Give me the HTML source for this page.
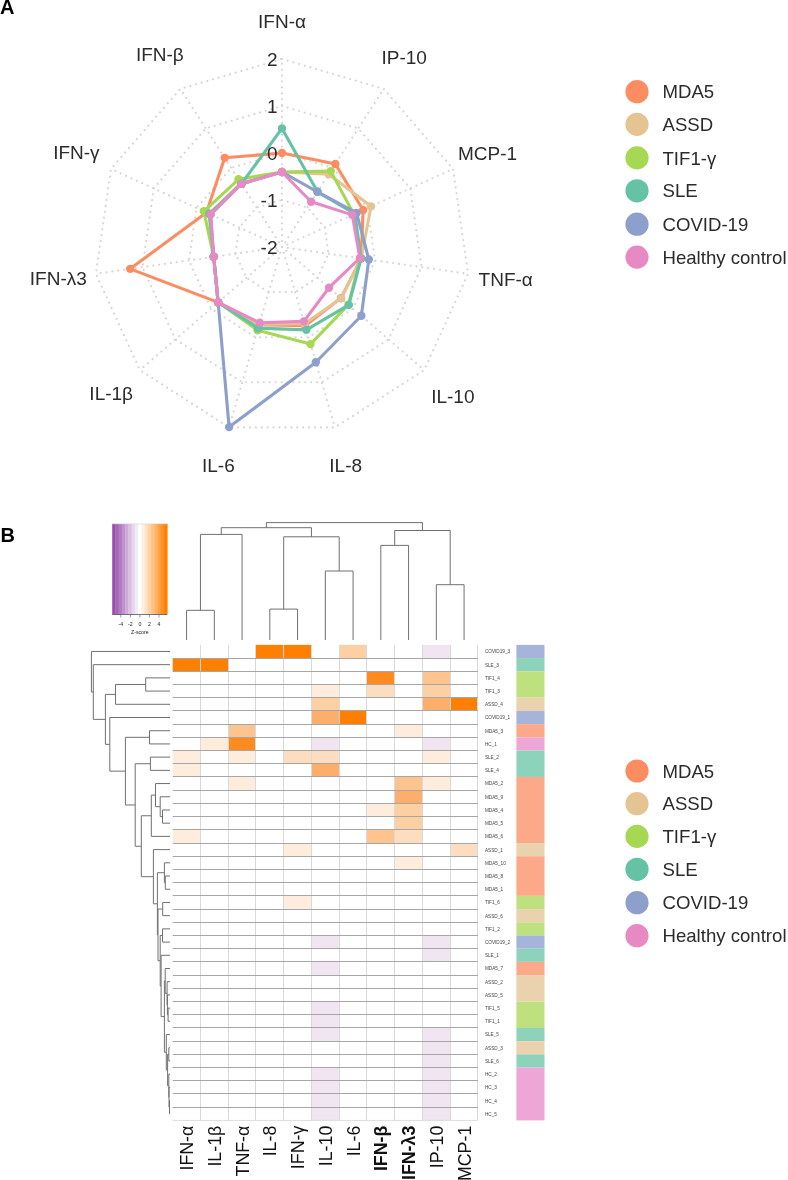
<!DOCTYPE html>
<html><head><meta charset="utf-8"><style>
html,body{margin:0;padding:0;background:#fff;}
svg{display:block;font-family:"Liberation Sans", sans-serif;will-change:transform;}
</style></head><body>
<svg width="788" height="1180" viewBox="0 0 788 1180">
<rect width="788" height="1180" fill="#fff"/>
<polygon points="282.00,200.00 307.41,207.46 324.75,227.48 328.52,253.69 317.52,277.78 295.24,292.10 268.76,292.10 246.48,277.78 235.48,253.69 239.25,227.48 256.59,207.46" fill="none" stroke="#d4d4d4" stroke-width="2.1" stroke-dasharray="0.01 5.9" stroke-linecap="round"/>
<polygon points="282.00,153.00 332.82,167.92 367.51,207.95 375.04,260.38 353.04,308.56 308.48,337.19 255.52,337.19 210.96,308.56 188.96,260.38 196.49,207.95 231.18,167.92" fill="none" stroke="#d4d4d4" stroke-width="2.1" stroke-dasharray="0.01 5.9" stroke-linecap="round"/>
<polygon points="282.00,106.00 358.23,128.38 410.26,188.43 421.56,267.07 388.56,339.34 321.72,382.29 242.28,382.29 175.44,339.34 142.44,267.07 153.74,188.43 205.77,128.38" fill="none" stroke="#d4d4d4" stroke-width="2.1" stroke-dasharray="0.01 5.9" stroke-linecap="round"/>
<polygon points="282.00,59.00 383.64,88.84 453.01,168.90 468.09,273.76 424.08,370.11 334.97,427.38 229.03,427.38 139.92,370.11 95.91,273.76 110.99,168.90 180.36,88.84" fill="none" stroke="#d4d4d4" stroke-width="2.1" stroke-dasharray="0.01 5.9" stroke-linecap="round"/>
<line x1="282.0" y1="247.0" x2="282.00" y2="59.00" stroke="#d4d4d4" stroke-width="2.1" stroke-dasharray="0.01 5.9" stroke-linecap="round"/>
<line x1="282.0" y1="247.0" x2="383.64" y2="88.84" stroke="#d4d4d4" stroke-width="2.1" stroke-dasharray="0.01 5.9" stroke-linecap="round"/>
<line x1="282.0" y1="247.0" x2="453.01" y2="168.90" stroke="#d4d4d4" stroke-width="2.1" stroke-dasharray="0.01 5.9" stroke-linecap="round"/>
<line x1="282.0" y1="247.0" x2="468.09" y2="273.76" stroke="#d4d4d4" stroke-width="2.1" stroke-dasharray="0.01 5.9" stroke-linecap="round"/>
<line x1="282.0" y1="247.0" x2="424.08" y2="370.11" stroke="#d4d4d4" stroke-width="2.1" stroke-dasharray="0.01 5.9" stroke-linecap="round"/>
<line x1="282.0" y1="247.0" x2="334.97" y2="427.38" stroke="#d4d4d4" stroke-width="2.1" stroke-dasharray="0.01 5.9" stroke-linecap="round"/>
<line x1="282.0" y1="247.0" x2="229.03" y2="427.38" stroke="#d4d4d4" stroke-width="2.1" stroke-dasharray="0.01 5.9" stroke-linecap="round"/>
<line x1="282.0" y1="247.0" x2="139.92" y2="370.11" stroke="#d4d4d4" stroke-width="2.1" stroke-dasharray="0.01 5.9" stroke-linecap="round"/>
<line x1="282.0" y1="247.0" x2="95.91" y2="273.76" stroke="#d4d4d4" stroke-width="2.1" stroke-dasharray="0.01 5.9" stroke-linecap="round"/>
<line x1="282.0" y1="247.0" x2="110.99" y2="168.90" stroke="#d4d4d4" stroke-width="2.1" stroke-dasharray="0.01 5.9" stroke-linecap="round"/>
<line x1="282.0" y1="247.0" x2="180.36" y2="88.84" stroke="#d4d4d4" stroke-width="2.1" stroke-dasharray="0.01 5.9" stroke-linecap="round"/>
<polygon points="282.00,153.00 335.36,163.97 363.14,209.94 361.19,258.39 340.95,298.08 305.10,325.68 259.18,324.72 218.14,302.34 130.16,268.83 206.50,212.52 224.69,157.83" fill="none" stroke="#FC8D62" stroke-width="3.1" stroke-linejoin="round"/>
<circle cx="282.00" cy="153.00" r="4.2" fill="#FC8D62"/>
<circle cx="335.36" cy="163.97" r="4.2" fill="#FC8D62"/>
<circle cx="363.14" cy="209.94" r="4.2" fill="#FC8D62"/>
<circle cx="361.19" cy="258.39" r="4.2" fill="#FC8D62"/>
<circle cx="340.95" cy="298.08" r="4.2" fill="#FC8D62"/>
<circle cx="305.10" cy="325.68" r="4.2" fill="#FC8D62"/>
<circle cx="259.18" cy="324.72" r="4.2" fill="#FC8D62"/>
<circle cx="218.14" cy="302.34" r="4.2" fill="#FC8D62"/>
<circle cx="130.16" cy="268.83" r="4.2" fill="#FC8D62"/>
<circle cx="206.50" cy="212.52" r="4.2" fill="#FC8D62"/>
<circle cx="224.69" cy="157.83" r="4.2" fill="#FC8D62"/>
<polygon points="282.00,172.00 328.71,174.32 371.05,206.33 361.19,258.39 341.25,298.34 304.54,323.76 259.32,324.24 218.14,302.34 213.70,256.82 209.23,213.77 240.91,183.06" fill="none" stroke="#E5C494" stroke-width="3.1" stroke-linejoin="round"/>
<circle cx="282.00" cy="172.00" r="4.2" fill="#E5C494"/>
<circle cx="328.71" cy="174.32" r="4.2" fill="#E5C494"/>
<circle cx="371.05" cy="206.33" r="4.2" fill="#E5C494"/>
<circle cx="361.19" cy="258.39" r="4.2" fill="#E5C494"/>
<circle cx="341.25" cy="298.34" r="4.2" fill="#E5C494"/>
<circle cx="304.54" cy="323.76" r="4.2" fill="#E5C494"/>
<circle cx="259.32" cy="324.24" r="4.2" fill="#E5C494"/>
<circle cx="218.14" cy="302.34" r="4.2" fill="#E5C494"/>
<circle cx="213.70" cy="256.82" r="4.2" fill="#E5C494"/>
<circle cx="209.23" cy="213.77" r="4.2" fill="#E5C494"/>
<circle cx="240.91" cy="183.06" r="4.2" fill="#E5C494"/>
<polygon points="282.00,172.00 330.77,171.12 353.86,214.18 360.20,258.24 348.51,304.63 310.51,344.10 257.55,330.28 218.14,302.34 213.70,256.82 203.86,211.32 238.48,179.28" fill="none" stroke="#A6D854" stroke-width="3.1" stroke-linejoin="round"/>
<circle cx="282.00" cy="172.00" r="4.2" fill="#A6D854"/>
<circle cx="330.77" cy="171.12" r="4.2" fill="#A6D854"/>
<circle cx="353.86" cy="214.18" r="4.2" fill="#A6D854"/>
<circle cx="360.20" cy="258.24" r="4.2" fill="#A6D854"/>
<circle cx="348.51" cy="304.63" r="4.2" fill="#A6D854"/>
<circle cx="310.51" cy="344.10" r="4.2" fill="#A6D854"/>
<circle cx="257.55" cy="330.28" r="4.2" fill="#A6D854"/>
<circle cx="218.14" cy="302.34" r="4.2" fill="#A6D854"/>
<circle cx="213.70" cy="256.82" r="4.2" fill="#A6D854"/>
<circle cx="203.86" cy="211.32" r="4.2" fill="#A6D854"/>
<circle cx="238.48" cy="179.28" r="4.2" fill="#A6D854"/>
<polygon points="282.00,128.40 317.47,191.81 354.77,213.77 361.19,258.39 348.81,304.89 306.34,329.90 258.17,328.17 218.14,302.34 213.70,256.82 209.23,213.77 241.45,183.91" fill="none" stroke="#66C2A5" stroke-width="3.1" stroke-linejoin="round"/>
<circle cx="282.00" cy="128.40" r="4.2" fill="#66C2A5"/>
<circle cx="317.47" cy="191.81" r="4.2" fill="#66C2A5"/>
<circle cx="354.77" cy="213.77" r="4.2" fill="#66C2A5"/>
<circle cx="361.19" cy="258.39" r="4.2" fill="#66C2A5"/>
<circle cx="348.81" cy="304.89" r="4.2" fill="#66C2A5"/>
<circle cx="306.34" cy="329.90" r="4.2" fill="#66C2A5"/>
<circle cx="258.17" cy="328.17" r="4.2" fill="#66C2A5"/>
<circle cx="218.14" cy="302.34" r="4.2" fill="#66C2A5"/>
<circle cx="213.70" cy="256.82" r="4.2" fill="#66C2A5"/>
<circle cx="209.23" cy="213.77" r="4.2" fill="#66C2A5"/>
<circle cx="241.45" cy="183.91" r="4.2" fill="#66C2A5"/>
<polygon points="282.00,172.00 317.47,191.81 356.59,212.94 368.81,259.48 361.35,315.76 315.84,362.24 229.12,427.10 218.14,302.34 213.70,256.82 210.59,214.39 241.45,183.91" fill="none" stroke="#8DA0CB" stroke-width="3.1" stroke-linejoin="round"/>
<circle cx="282.00" cy="172.00" r="4.2" fill="#8DA0CB"/>
<circle cx="317.47" cy="191.81" r="4.2" fill="#8DA0CB"/>
<circle cx="356.59" cy="212.94" r="4.2" fill="#8DA0CB"/>
<circle cx="368.81" cy="259.48" r="4.2" fill="#8DA0CB"/>
<circle cx="361.35" cy="315.76" r="4.2" fill="#8DA0CB"/>
<circle cx="315.84" cy="362.24" r="4.2" fill="#8DA0CB"/>
<circle cx="229.12" cy="427.10" r="4.2" fill="#8DA0CB"/>
<circle cx="218.14" cy="302.34" r="4.2" fill="#8DA0CB"/>
<circle cx="213.70" cy="256.82" r="4.2" fill="#8DA0CB"/>
<circle cx="210.59" cy="214.39" r="4.2" fill="#8DA0CB"/>
<circle cx="241.45" cy="183.91" r="4.2" fill="#8DA0CB"/>
<polygon points="282.00,172.00 311.09,201.74 352.31,214.89 359.90,258.20 329.01,287.73 303.83,321.36 259.74,322.80 218.14,302.34 213.70,256.82 210.59,214.39 241.45,183.91" fill="none" stroke="#E78AC3" stroke-width="3.1" stroke-linejoin="round"/>
<circle cx="282.00" cy="172.00" r="4.2" fill="#E78AC3"/>
<circle cx="311.09" cy="201.74" r="4.2" fill="#E78AC3"/>
<circle cx="352.31" cy="214.89" r="4.2" fill="#E78AC3"/>
<circle cx="359.90" cy="258.20" r="4.2" fill="#E78AC3"/>
<circle cx="329.01" cy="287.73" r="4.2" fill="#E78AC3"/>
<circle cx="303.83" cy="321.36" r="4.2" fill="#E78AC3"/>
<circle cx="259.74" cy="322.80" r="4.2" fill="#E78AC3"/>
<circle cx="218.14" cy="302.34" r="4.2" fill="#E78AC3"/>
<circle cx="213.70" cy="256.82" r="4.2" fill="#E78AC3"/>
<circle cx="210.59" cy="214.39" r="4.2" fill="#E78AC3"/>
<circle cx="241.45" cy="183.91" r="4.2" fill="#E78AC3"/>
<text x="277.5" y="253.80" text-anchor="end" font-size="19" fill="#2b2b2b">-2</text>
<text x="277.5" y="206.80" text-anchor="end" font-size="19" fill="#2b2b2b">-1</text>
<text x="277.5" y="159.80" text-anchor="end" font-size="19" fill="#2b2b2b">0</text>
<text x="277.5" y="112.80" text-anchor="end" font-size="19" fill="#2b2b2b">1</text>
<text x="277.5" y="65.80" text-anchor="end" font-size="19" fill="#2b2b2b">2</text>
<text x="282.00" y="27.80" text-anchor="middle" font-size="19" fill="#2b2b2b">IFN-α</text>
<text x="404.18" y="63.68" text-anchor="middle" font-size="19" fill="#2b2b2b">IP-10</text>
<text x="487.58" y="159.92" text-anchor="middle" font-size="19" fill="#2b2b2b">MCP-1</text>
<text x="505.70" y="285.96" text-anchor="middle" font-size="19" fill="#2b2b2b">TNF-α</text>
<text x="452.80" y="403.00" text-anchor="middle" font-size="19" fill="#2b2b2b">IL-10</text>
<text x="345.67" y="471.65" text-anchor="middle" font-size="19" fill="#2b2b2b">IL-8</text>
<text x="218.33" y="471.65" text-anchor="middle" font-size="19" fill="#2b2b2b">IL-6</text>
<text x="111.20" y="400.30" text-anchor="middle" font-size="19" fill="#2b2b2b">IL-1β</text>
<text x="58.30" y="285.26" text-anchor="middle" font-size="19" fill="#2b2b2b">IFN-λ3</text>
<text x="76.42" y="159.02" text-anchor="middle" font-size="19" fill="#2b2b2b">IFN-γ</text>
<text x="159.82" y="61.28" text-anchor="middle" font-size="19" fill="#2b2b2b">IFN-β</text>
<circle cx="637" cy="91.7" r="11.6" fill="#FC8D62"/>
<text x="662.5" y="98.30" font-size="18.6" fill="#2b2b2b">MDA5</text>
<circle cx="637" cy="124.4" r="11.6" fill="#E5C494"/>
<text x="662.5" y="131.00" font-size="18.6" fill="#2b2b2b">ASSD</text>
<circle cx="637" cy="157.9" r="11.6" fill="#A6D854"/>
<text x="662.5" y="164.50" font-size="18.6" fill="#2b2b2b">TIF1-γ</text>
<circle cx="637" cy="190.8" r="11.6" fill="#66C2A5"/>
<text x="662.5" y="197.40" font-size="18.6" fill="#2b2b2b">SLE</text>
<circle cx="637" cy="224.2" r="11.6" fill="#8DA0CB"/>
<text x="662.5" y="230.80" font-size="18.6" fill="#2b2b2b">COVID-19</text>
<circle cx="637" cy="257.1" r="11.6" fill="#E78AC3"/>
<text x="662.5" y="263.70" font-size="18.6" fill="#2b2b2b">Healthy control</text>
<circle cx="637" cy="771" r="11.6" fill="#FC8D62"/>
<text x="662.5" y="777.60" font-size="18.6" fill="#2b2b2b">MDA5</text>
<circle cx="637" cy="803.7" r="11.6" fill="#E5C494"/>
<text x="662.5" y="810.30" font-size="18.6" fill="#2b2b2b">ASSD</text>
<circle cx="637" cy="836.4" r="11.6" fill="#A6D854"/>
<text x="662.5" y="843.00" font-size="18.6" fill="#2b2b2b">TIF1-γ</text>
<circle cx="637" cy="869.3" r="11.6" fill="#66C2A5"/>
<text x="662.5" y="875.90" font-size="18.6" fill="#2b2b2b">SLE</text>
<circle cx="637" cy="902.7" r="11.6" fill="#8DA0CB"/>
<text x="662.5" y="909.30" font-size="18.6" fill="#2b2b2b">COVID-19</text>
<circle cx="637" cy="935.7" r="11.6" fill="#E78AC3"/>
<text x="662.5" y="942.30" font-size="18.6" fill="#2b2b2b">Healthy control</text>
<text x="0" y="13.8" font-size="20" font-weight="bold" fill="#000">A</text>
<text x="0.5" y="541.7" font-size="20" font-weight="bold" fill="#000">B</text>
<rect x="255.95" y="644.85" width="27.75" height="13.21" fill="#FF7F00"/>
<rect x="283.70" y="644.85" width="27.75" height="13.21" fill="#FF7F00"/>
<rect x="339.20" y="644.85" width="27.75" height="13.21" fill="#FDD0A3"/>
<rect x="422.45" y="644.85" width="27.75" height="13.21" fill="#F0E5F1"/>
<rect x="172.70" y="658.06" width="27.75" height="13.21" fill="#FF7F00"/>
<rect x="200.45" y="658.06" width="27.75" height="13.21" fill="#FF7F00"/>
<rect x="366.95" y="671.27" width="27.75" height="13.21" fill="#FE8B20"/>
<rect x="422.45" y="671.27" width="27.75" height="13.21" fill="#FDC48F"/>
<rect x="311.45" y="684.48" width="27.75" height="13.21" fill="#FEEDDC"/>
<rect x="366.95" y="684.48" width="27.75" height="13.21" fill="#FDDDBF"/>
<rect x="422.45" y="684.48" width="27.75" height="13.21" fill="#FDD0A3"/>
<rect x="311.45" y="697.69" width="27.75" height="13.21" fill="#FDD0A3"/>
<rect x="422.45" y="697.69" width="27.75" height="13.21" fill="#FDAE6B"/>
<rect x="450.20" y="697.69" width="27.75" height="13.21" fill="#FF7F00"/>
<rect x="311.45" y="710.90" width="27.75" height="13.21" fill="#FDAE6B"/>
<rect x="339.20" y="710.90" width="27.75" height="13.21" fill="#FF7F00"/>
<rect x="228.20" y="724.11" width="27.75" height="13.21" fill="#FDC48F"/>
<rect x="394.70" y="724.11" width="27.75" height="13.21" fill="#FEEDDC"/>
<rect x="200.45" y="737.32" width="27.75" height="13.21" fill="#FEEDDC"/>
<rect x="228.20" y="737.32" width="27.75" height="13.21" fill="#FE8B20"/>
<rect x="311.45" y="737.32" width="27.75" height="13.21" fill="#F0E5F1"/>
<rect x="422.45" y="737.32" width="27.75" height="13.21" fill="#F0E5F1"/>
<rect x="172.70" y="750.53" width="27.75" height="13.21" fill="#FEEDDC"/>
<rect x="228.20" y="750.53" width="27.75" height="13.21" fill="#FEEDDC"/>
<rect x="283.70" y="750.53" width="27.75" height="13.21" fill="#FDDDBF"/>
<rect x="311.45" y="750.53" width="27.75" height="13.21" fill="#FDDDBF"/>
<rect x="422.45" y="750.53" width="27.75" height="13.21" fill="#FEEDDC"/>
<rect x="172.70" y="763.74" width="27.75" height="13.21" fill="#FEEDDC"/>
<rect x="311.45" y="763.74" width="27.75" height="13.21" fill="#FDAE6B"/>
<rect x="228.20" y="776.95" width="27.75" height="13.21" fill="#FEEDDC"/>
<rect x="394.70" y="776.95" width="27.75" height="13.21" fill="#FDC48F"/>
<rect x="422.45" y="776.95" width="27.75" height="13.21" fill="#FEEDDC"/>
<rect x="394.70" y="790.16" width="27.75" height="13.21" fill="#FDAE6B"/>
<rect x="366.95" y="803.37" width="27.75" height="13.21" fill="#FEEDDC"/>
<rect x="394.70" y="803.37" width="27.75" height="13.21" fill="#FDD0A3"/>
<rect x="394.70" y="816.58" width="27.75" height="13.21" fill="#FDD0A3"/>
<rect x="172.70" y="829.79" width="27.75" height="13.21" fill="#FEEDDC"/>
<rect x="366.95" y="829.79" width="27.75" height="13.21" fill="#FDC48F"/>
<rect x="394.70" y="829.79" width="27.75" height="13.21" fill="#FDDDBF"/>
<rect x="283.70" y="843.00" width="27.75" height="13.21" fill="#FEEDDC"/>
<rect x="450.20" y="843.00" width="27.75" height="13.21" fill="#FDDDBF"/>
<rect x="394.70" y="856.21" width="27.75" height="13.21" fill="#FEEDDC"/>
<rect x="283.70" y="895.84" width="27.75" height="13.21" fill="#FEEDDC"/>
<rect x="311.45" y="935.47" width="27.75" height="13.21" fill="#F0E5F1"/>
<rect x="422.45" y="935.47" width="27.75" height="13.21" fill="#F0E5F1"/>
<rect x="422.45" y="948.68" width="27.75" height="13.21" fill="#F0E5F1"/>
<rect x="311.45" y="961.89" width="27.75" height="13.21" fill="#F0E5F1"/>
<rect x="311.45" y="1001.52" width="27.75" height="13.21" fill="#F0E5F1"/>
<rect x="311.45" y="1014.73" width="27.75" height="13.21" fill="#F0E5F1"/>
<rect x="311.45" y="1027.94" width="27.75" height="13.21" fill="#F0E5F1"/>
<rect x="422.45" y="1027.94" width="27.75" height="13.21" fill="#F0E5F1"/>
<rect x="422.45" y="1041.15" width="27.75" height="13.21" fill="#F0E5F1"/>
<rect x="422.45" y="1054.36" width="27.75" height="13.21" fill="#F0E5F1"/>
<rect x="311.45" y="1067.57" width="27.75" height="13.21" fill="#F0E5F1"/>
<rect x="422.45" y="1067.57" width="27.75" height="13.21" fill="#F0E5F1"/>
<rect x="311.45" y="1080.78" width="27.75" height="13.21" fill="#F0E5F1"/>
<rect x="422.45" y="1080.78" width="27.75" height="13.21" fill="#F0E5F1"/>
<rect x="311.45" y="1093.99" width="27.75" height="13.21" fill="#F0E5F1"/>
<rect x="422.45" y="1093.99" width="27.75" height="13.21" fill="#F0E5F1"/>
<rect x="311.45" y="1107.20" width="27.75" height="13.21" fill="#F0E5F1"/>
<rect x="422.45" y="1107.20" width="27.75" height="13.21" fill="#F0E5F1"/>
<line x1="200.50" y1="644.85" x2="200.50" y2="1120.41" stroke="#d9d9d9" stroke-width="1"/>
<line x1="228.50" y1="644.85" x2="228.50" y2="1120.41" stroke="#d9d9d9" stroke-width="1"/>
<line x1="255.50" y1="644.85" x2="255.50" y2="1120.41" stroke="#d9d9d9" stroke-width="1"/>
<line x1="283.50" y1="644.85" x2="283.50" y2="1120.41" stroke="#d9d9d9" stroke-width="1"/>
<line x1="311.50" y1="644.85" x2="311.50" y2="1120.41" stroke="#d9d9d9" stroke-width="1"/>
<line x1="339.50" y1="644.85" x2="339.50" y2="1120.41" stroke="#d9d9d9" stroke-width="1"/>
<line x1="366.50" y1="644.85" x2="366.50" y2="1120.41" stroke="#d9d9d9" stroke-width="1"/>
<line x1="394.50" y1="644.85" x2="394.50" y2="1120.41" stroke="#d9d9d9" stroke-width="1"/>
<line x1="422.50" y1="644.85" x2="422.50" y2="1120.41" stroke="#d9d9d9" stroke-width="1"/>
<line x1="450.50" y1="644.85" x2="450.50" y2="1120.41" stroke="#d9d9d9" stroke-width="1"/>
<line x1="477.50" y1="644.85" x2="477.50" y2="1120.41" stroke="#d9d9d9" stroke-width="1"/>
<line x1="172.70" y1="1120.41" x2="477.95" y2="1120.41" stroke="#dddddd" stroke-width="1"/>
<line x1="172.70" y1="658.50" x2="477.95" y2="658.50" stroke="#a6a6a6" stroke-width="1"/>
<line x1="172.70" y1="671.50" x2="477.95" y2="671.50" stroke="#a6a6a6" stroke-width="1"/>
<line x1="172.70" y1="684.50" x2="477.95" y2="684.50" stroke="#a6a6a6" stroke-width="1"/>
<line x1="172.70" y1="697.50" x2="477.95" y2="697.50" stroke="#a6a6a6" stroke-width="1"/>
<line x1="172.70" y1="710.50" x2="477.95" y2="710.50" stroke="#a6a6a6" stroke-width="1"/>
<line x1="172.70" y1="724.50" x2="477.95" y2="724.50" stroke="#a6a6a6" stroke-width="1"/>
<line x1="172.70" y1="737.50" x2="477.95" y2="737.50" stroke="#a6a6a6" stroke-width="1"/>
<line x1="172.70" y1="750.50" x2="477.95" y2="750.50" stroke="#a6a6a6" stroke-width="1"/>
<line x1="172.70" y1="763.50" x2="477.95" y2="763.50" stroke="#a6a6a6" stroke-width="1"/>
<line x1="172.70" y1="776.50" x2="477.95" y2="776.50" stroke="#a6a6a6" stroke-width="1"/>
<line x1="172.70" y1="790.50" x2="477.95" y2="790.50" stroke="#a6a6a6" stroke-width="1"/>
<line x1="172.70" y1="803.50" x2="477.95" y2="803.50" stroke="#a6a6a6" stroke-width="1"/>
<line x1="172.70" y1="816.50" x2="477.95" y2="816.50" stroke="#a6a6a6" stroke-width="1"/>
<line x1="172.70" y1="829.50" x2="477.95" y2="829.50" stroke="#a6a6a6" stroke-width="1"/>
<line x1="172.70" y1="843.50" x2="477.95" y2="843.50" stroke="#a6a6a6" stroke-width="1"/>
<line x1="172.70" y1="856.50" x2="477.95" y2="856.50" stroke="#a6a6a6" stroke-width="1"/>
<line x1="172.70" y1="869.50" x2="477.95" y2="869.50" stroke="#a6a6a6" stroke-width="1"/>
<line x1="172.70" y1="882.50" x2="477.95" y2="882.50" stroke="#a6a6a6" stroke-width="1"/>
<line x1="172.70" y1="895.50" x2="477.95" y2="895.50" stroke="#a6a6a6" stroke-width="1"/>
<line x1="172.70" y1="909.50" x2="477.95" y2="909.50" stroke="#a6a6a6" stroke-width="1"/>
<line x1="172.70" y1="922.50" x2="477.95" y2="922.50" stroke="#a6a6a6" stroke-width="1"/>
<line x1="172.70" y1="935.50" x2="477.95" y2="935.50" stroke="#a6a6a6" stroke-width="1"/>
<line x1="172.70" y1="948.50" x2="477.95" y2="948.50" stroke="#a6a6a6" stroke-width="1"/>
<line x1="172.70" y1="961.50" x2="477.95" y2="961.50" stroke="#a6a6a6" stroke-width="1"/>
<line x1="172.70" y1="975.50" x2="477.95" y2="975.50" stroke="#a6a6a6" stroke-width="1"/>
<line x1="172.70" y1="988.50" x2="477.95" y2="988.50" stroke="#a6a6a6" stroke-width="1"/>
<line x1="172.70" y1="1001.50" x2="477.95" y2="1001.50" stroke="#a6a6a6" stroke-width="1"/>
<line x1="172.70" y1="1014.50" x2="477.95" y2="1014.50" stroke="#a6a6a6" stroke-width="1"/>
<line x1="172.70" y1="1027.50" x2="477.95" y2="1027.50" stroke="#a6a6a6" stroke-width="1"/>
<line x1="172.70" y1="1041.50" x2="477.95" y2="1041.50" stroke="#a6a6a6" stroke-width="1"/>
<line x1="172.70" y1="1054.50" x2="477.95" y2="1054.50" stroke="#a6a6a6" stroke-width="1"/>
<line x1="172.70" y1="1067.50" x2="477.95" y2="1067.50" stroke="#a6a6a6" stroke-width="1"/>
<line x1="172.70" y1="1080.50" x2="477.95" y2="1080.50" stroke="#a6a6a6" stroke-width="1"/>
<line x1="172.70" y1="1093.50" x2="477.95" y2="1093.50" stroke="#a6a6a6" stroke-width="1"/>
<line x1="172.70" y1="1107.50" x2="477.95" y2="1107.50" stroke="#a6a6a6" stroke-width="1"/>
<text transform="translate(193.17,1125.7) rotate(-90)" text-anchor="end" font-size="17.8" fill="#111">IFN-α</text>
<text transform="translate(220.92,1125.7) rotate(-90)" text-anchor="end" font-size="17.8" fill="#111">IL-1β</text>
<text transform="translate(248.67,1125.7) rotate(-90)" text-anchor="end" font-size="17.8" fill="#111">TNF-α</text>
<text transform="translate(276.43,1125.7) rotate(-90)" text-anchor="end" font-size="17.8" fill="#111">IL-8</text>
<text transform="translate(304.18,1125.7) rotate(-90)" text-anchor="end" font-size="17.8" fill="#111">IFN-γ</text>
<text transform="translate(331.93,1125.7) rotate(-90)" text-anchor="end" font-size="17.8" fill="#111">IL-10</text>
<text transform="translate(359.68,1125.7) rotate(-90)" text-anchor="end" font-size="17.8" fill="#111">IL-6</text>
<text transform="translate(387.43,1125.7) rotate(-90)" text-anchor="end" font-size="17.8" font-weight="bold" fill="#111">IFN-β</text>
<text transform="translate(415.18,1125.7) rotate(-90)" text-anchor="end" font-size="17.8" font-weight="bold" fill="#111">IFN-λ3</text>
<text transform="translate(442.93,1125.7) rotate(-90)" text-anchor="end" font-size="17.8" fill="#111">IP-10</text>
<text transform="translate(470.68,1125.7) rotate(-90)" text-anchor="end" font-size="17.8" fill="#111">MCP-1</text>
<text x="484.9" y="653.36" font-size="4.7" fill="#444">COVID19_3</text>
<text x="484.9" y="666.57" font-size="4.7" fill="#444">SLE_3</text>
<text x="484.9" y="679.77" font-size="4.7" fill="#444">TIF1_4</text>
<text x="484.9" y="692.99" font-size="4.7" fill="#444">TIF1_3</text>
<text x="484.9" y="706.20" font-size="4.7" fill="#444">ASSD_4</text>
<text x="484.9" y="719.40" font-size="4.7" fill="#444">COVID19_1</text>
<text x="484.9" y="732.62" font-size="4.7" fill="#444">MDA5_3</text>
<text x="484.9" y="745.83" font-size="4.7" fill="#444">HC_1</text>
<text x="484.9" y="759.03" font-size="4.7" fill="#444">SLE_2</text>
<text x="484.9" y="772.25" font-size="4.7" fill="#444">SLE_4</text>
<text x="484.9" y="785.46" font-size="4.7" fill="#444">MDA5_2</text>
<text x="484.9" y="798.67" font-size="4.7" fill="#444">MDA5_9</text>
<text x="484.9" y="811.88" font-size="4.7" fill="#444">MDA5_4</text>
<text x="484.9" y="825.09" font-size="4.7" fill="#444">MDA5_5</text>
<text x="484.9" y="838.29" font-size="4.7" fill="#444">MDA5_6</text>
<text x="484.9" y="851.50" font-size="4.7" fill="#444">ASSD_1</text>
<text x="484.9" y="864.72" font-size="4.7" fill="#444">MDA5_10</text>
<text x="484.9" y="877.93" font-size="4.7" fill="#444">MDA5_8</text>
<text x="484.9" y="891.13" font-size="4.7" fill="#444">MDA5_1</text>
<text x="484.9" y="904.35" font-size="4.7" fill="#444">TIF1_6</text>
<text x="484.9" y="917.55" font-size="4.7" fill="#444">ASSD_6</text>
<text x="484.9" y="930.76" font-size="4.7" fill="#444">TIF1_2</text>
<text x="484.9" y="943.98" font-size="4.7" fill="#444">COVID19_2</text>
<text x="484.9" y="957.19" font-size="4.7" fill="#444">SLE_1</text>
<text x="484.9" y="970.40" font-size="4.7" fill="#444">MDA5_7</text>
<text x="484.9" y="983.61" font-size="4.7" fill="#444">ASSD_2</text>
<text x="484.9" y="996.81" font-size="4.7" fill="#444">ASSD_5</text>
<text x="484.9" y="1010.02" font-size="4.7" fill="#444">TIF1_5</text>
<text x="484.9" y="1023.24" font-size="4.7" fill="#444">TIF1_1</text>
<text x="484.9" y="1036.45" font-size="4.7" fill="#444">SLE_5</text>
<text x="484.9" y="1049.66" font-size="4.7" fill="#444">ASSD_3</text>
<text x="484.9" y="1062.87" font-size="4.7" fill="#444">SLE_6</text>
<text x="484.9" y="1076.08" font-size="4.7" fill="#444">HC_2</text>
<text x="484.9" y="1089.29" font-size="4.7" fill="#444">HC_3</text>
<text x="484.9" y="1102.50" font-size="4.7" fill="#444">HC_4</text>
<text x="484.9" y="1115.71" font-size="4.7" fill="#444">HC_5</text>
<rect x="516.4" y="644.85" width="28.1" height="13.21" fill="#A5B4D8"/>
<rect x="516.4" y="658.06" width="28.1" height="13.21" fill="#8DD2BA"/>
<rect x="516.4" y="671.27" width="28.1" height="26.42" fill="#BFE07E"/>
<rect x="516.4" y="697.69" width="28.1" height="13.21" fill="#EAD2AE"/>
<rect x="516.4" y="710.90" width="28.1" height="13.21" fill="#A5B4D8"/>
<rect x="516.4" y="724.11" width="28.1" height="13.21" fill="#FCA98A"/>
<rect x="516.4" y="737.32" width="28.1" height="13.21" fill="#EDA6D5"/>
<rect x="516.4" y="750.53" width="28.1" height="26.42" fill="#8DD2BA"/>
<rect x="516.4" y="776.95" width="28.1" height="66.05" fill="#FCA98A"/>
<rect x="516.4" y="843.00" width="28.1" height="13.21" fill="#EAD2AE"/>
<rect x="516.4" y="856.21" width="28.1" height="39.63" fill="#FCA98A"/>
<rect x="516.4" y="895.84" width="28.1" height="13.21" fill="#BFE07E"/>
<rect x="516.4" y="909.05" width="28.1" height="13.21" fill="#EAD2AE"/>
<rect x="516.4" y="922.26" width="28.1" height="13.21" fill="#BFE07E"/>
<rect x="516.4" y="935.47" width="28.1" height="13.21" fill="#A5B4D8"/>
<rect x="516.4" y="948.68" width="28.1" height="13.21" fill="#8DD2BA"/>
<rect x="516.4" y="961.89" width="28.1" height="13.21" fill="#FCA98A"/>
<rect x="516.4" y="975.10" width="28.1" height="26.42" fill="#EAD2AE"/>
<rect x="516.4" y="1001.52" width="28.1" height="26.42" fill="#BFE07E"/>
<rect x="516.4" y="1027.94" width="28.1" height="13.21" fill="#8DD2BA"/>
<rect x="516.4" y="1041.15" width="28.1" height="13.21" fill="#EAD2AE"/>
<rect x="516.4" y="1054.36" width="28.1" height="13.21" fill="#8DD2BA"/>
<rect x="516.4" y="1067.57" width="28.1" height="52.84" fill="#EDA6D5"/>
<line x1="186.57" y1="640.00" x2="186.57" y2="610.30" stroke="#707070" stroke-width="1"/>
<line x1="214.32" y1="640.00" x2="214.32" y2="610.30" stroke="#707070" stroke-width="1"/>
<line x1="186.57" y1="610.30" x2="214.32" y2="610.30" stroke="#707070" stroke-width="1"/>
<line x1="200.45" y1="610.30" x2="200.45" y2="534.40" stroke="#707070" stroke-width="1"/>
<line x1="242.07" y1="640.00" x2="242.07" y2="534.40" stroke="#707070" stroke-width="1"/>
<line x1="200.45" y1="534.40" x2="242.07" y2="534.40" stroke="#707070" stroke-width="1"/>
<line x1="221.26" y1="534.40" x2="221.26" y2="527.70" stroke="#707070" stroke-width="1"/>
<line x1="269.82" y1="640.00" x2="269.82" y2="609.10" stroke="#707070" stroke-width="1"/>
<line x1="297.57" y1="640.00" x2="297.57" y2="609.10" stroke="#707070" stroke-width="1"/>
<line x1="269.82" y1="609.10" x2="297.57" y2="609.10" stroke="#707070" stroke-width="1"/>
<line x1="283.70" y1="609.10" x2="283.70" y2="536.80" stroke="#707070" stroke-width="1"/>
<line x1="325.32" y1="640.00" x2="325.32" y2="571.00" stroke="#707070" stroke-width="1"/>
<line x1="353.07" y1="640.00" x2="353.07" y2="571.00" stroke="#707070" stroke-width="1"/>
<line x1="325.32" y1="571.00" x2="353.07" y2="571.00" stroke="#707070" stroke-width="1"/>
<line x1="339.20" y1="571.00" x2="339.20" y2="536.80" stroke="#707070" stroke-width="1"/>
<line x1="283.70" y1="536.80" x2="339.20" y2="536.80" stroke="#707070" stroke-width="1"/>
<line x1="311.45" y1="536.80" x2="311.45" y2="527.70" stroke="#707070" stroke-width="1"/>
<line x1="221.26" y1="527.70" x2="311.45" y2="527.70" stroke="#707070" stroke-width="1"/>
<line x1="266.36" y1="527.70" x2="266.36" y2="522.60" stroke="#707070" stroke-width="1"/>
<line x1="380.82" y1="640.00" x2="380.82" y2="545.40" stroke="#707070" stroke-width="1"/>
<line x1="408.57" y1="640.00" x2="408.57" y2="545.40" stroke="#707070" stroke-width="1"/>
<line x1="380.82" y1="545.40" x2="408.57" y2="545.40" stroke="#707070" stroke-width="1"/>
<line x1="394.70" y1="545.40" x2="394.70" y2="530.50" stroke="#707070" stroke-width="1"/>
<line x1="436.32" y1="640.00" x2="436.32" y2="584.70" stroke="#707070" stroke-width="1"/>
<line x1="464.07" y1="640.00" x2="464.07" y2="584.70" stroke="#707070" stroke-width="1"/>
<line x1="436.32" y1="584.70" x2="464.07" y2="584.70" stroke="#707070" stroke-width="1"/>
<line x1="450.20" y1="584.70" x2="450.20" y2="530.50" stroke="#707070" stroke-width="1"/>
<line x1="394.70" y1="530.50" x2="450.20" y2="530.50" stroke="#707070" stroke-width="1"/>
<line x1="422.45" y1="530.50" x2="422.45" y2="522.60" stroke="#707070" stroke-width="1"/>
<line x1="266.36" y1="522.60" x2="422.45" y2="522.60" stroke="#707070" stroke-width="1"/>
<line x1="170.10" y1="651.46" x2="91.40" y2="651.46" stroke="#707070" stroke-width="1"/>
<line x1="170.10" y1="664.67" x2="93.30" y2="664.67" stroke="#707070" stroke-width="1"/>
<line x1="170.10" y1="677.88" x2="145.70" y2="677.88" stroke="#707070" stroke-width="1"/>
<line x1="170.10" y1="691.09" x2="145.70" y2="691.09" stroke="#707070" stroke-width="1"/>
<line x1="145.70" y1="677.88" x2="145.70" y2="691.09" stroke="#707070" stroke-width="1"/>
<line x1="145.70" y1="684.48" x2="115.50" y2="684.48" stroke="#707070" stroke-width="1"/>
<line x1="170.10" y1="704.30" x2="115.50" y2="704.30" stroke="#707070" stroke-width="1"/>
<line x1="115.50" y1="684.48" x2="115.50" y2="704.30" stroke="#707070" stroke-width="1"/>
<line x1="115.50" y1="694.39" x2="105.40" y2="694.39" stroke="#707070" stroke-width="1"/>
<line x1="170.10" y1="717.50" x2="109.80" y2="717.50" stroke="#707070" stroke-width="1"/>
<line x1="170.10" y1="730.72" x2="149.50" y2="730.72" stroke="#707070" stroke-width="1"/>
<line x1="170.10" y1="743.93" x2="149.50" y2="743.93" stroke="#707070" stroke-width="1"/>
<line x1="149.50" y1="730.72" x2="149.50" y2="743.93" stroke="#707070" stroke-width="1"/>
<line x1="149.50" y1="737.32" x2="125.40" y2="737.32" stroke="#707070" stroke-width="1"/>
<line x1="170.10" y1="757.13" x2="150.40" y2="757.13" stroke="#707070" stroke-width="1"/>
<line x1="170.10" y1="770.35" x2="150.40" y2="770.35" stroke="#707070" stroke-width="1"/>
<line x1="150.40" y1="757.13" x2="150.40" y2="770.35" stroke="#707070" stroke-width="1"/>
<line x1="150.40" y1="763.74" x2="135.20" y2="763.74" stroke="#707070" stroke-width="1"/>
<line x1="170.10" y1="783.56" x2="155.50" y2="783.56" stroke="#707070" stroke-width="1"/>
<line x1="170.10" y1="796.77" x2="160.20" y2="796.77" stroke="#707070" stroke-width="1"/>
<line x1="170.10" y1="809.98" x2="162.50" y2="809.98" stroke="#707070" stroke-width="1"/>
<line x1="170.10" y1="823.19" x2="162.50" y2="823.19" stroke="#707070" stroke-width="1"/>
<line x1="162.50" y1="809.98" x2="162.50" y2="823.19" stroke="#707070" stroke-width="1"/>
<line x1="162.50" y1="816.58" x2="160.20" y2="816.58" stroke="#707070" stroke-width="1"/>
<line x1="160.20" y1="796.77" x2="160.20" y2="816.58" stroke="#707070" stroke-width="1"/>
<line x1="160.20" y1="806.67" x2="155.50" y2="806.67" stroke="#707070" stroke-width="1"/>
<line x1="155.50" y1="783.56" x2="155.50" y2="806.67" stroke="#707070" stroke-width="1"/>
<line x1="155.50" y1="795.11" x2="151.30" y2="795.11" stroke="#707070" stroke-width="1"/>
<line x1="170.10" y1="836.39" x2="151.30" y2="836.39" stroke="#707070" stroke-width="1"/>
<line x1="151.30" y1="795.11" x2="151.30" y2="836.39" stroke="#707070" stroke-width="1"/>
<line x1="151.30" y1="815.75" x2="141.30" y2="815.75" stroke="#707070" stroke-width="1"/>
<line x1="170.10" y1="849.61" x2="153.40" y2="849.61" stroke="#707070" stroke-width="1"/>
<line x1="170.10" y1="862.82" x2="164.40" y2="862.82" stroke="#707070" stroke-width="1"/>
<line x1="170.10" y1="876.03" x2="165.30" y2="876.03" stroke="#707070" stroke-width="1"/>
<line x1="170.10" y1="889.24" x2="165.30" y2="889.24" stroke="#707070" stroke-width="1"/>
<line x1="165.30" y1="876.03" x2="165.30" y2="889.24" stroke="#707070" stroke-width="1"/>
<line x1="165.30" y1="882.63" x2="164.40" y2="882.63" stroke="#707070" stroke-width="1"/>
<line x1="164.40" y1="862.82" x2="164.40" y2="882.63" stroke="#707070" stroke-width="1"/>
<line x1="164.40" y1="872.72" x2="157.40" y2="872.72" stroke="#707070" stroke-width="1"/>
<line x1="170.10" y1="902.45" x2="162.70" y2="902.45" stroke="#707070" stroke-width="1"/>
<line x1="170.10" y1="915.65" x2="162.70" y2="915.65" stroke="#707070" stroke-width="1"/>
<line x1="162.70" y1="902.45" x2="162.70" y2="915.65" stroke="#707070" stroke-width="1"/>
<line x1="162.70" y1="909.05" x2="158.00" y2="909.05" stroke="#707070" stroke-width="1"/>
<line x1="170.10" y1="928.87" x2="162.50" y2="928.87" stroke="#707070" stroke-width="1"/>
<line x1="170.10" y1="942.08" x2="162.50" y2="942.08" stroke="#707070" stroke-width="1"/>
<line x1="162.50" y1="928.87" x2="162.50" y2="942.08" stroke="#707070" stroke-width="1"/>
<line x1="162.50" y1="935.47" x2="160.20" y2="935.47" stroke="#707070" stroke-width="1"/>
<line x1="170.10" y1="955.29" x2="161.10" y2="955.29" stroke="#707070" stroke-width="1"/>
<line x1="170.10" y1="968.50" x2="165.20" y2="968.50" stroke="#707070" stroke-width="1"/>
<line x1="170.10" y1="981.71" x2="167.10" y2="981.71" stroke="#707070" stroke-width="1"/>
<line x1="170.10" y1="994.91" x2="167.40" y2="994.91" stroke="#707070" stroke-width="1"/>
<line x1="170.10" y1="1008.12" x2="168.10" y2="1008.12" stroke="#707070" stroke-width="1"/>
<line x1="170.10" y1="1021.34" x2="168.10" y2="1021.34" stroke="#707070" stroke-width="1"/>
<line x1="168.10" y1="1008.12" x2="168.10" y2="1021.34" stroke="#707070" stroke-width="1"/>
<line x1="168.10" y1="1014.73" x2="167.40" y2="1014.73" stroke="#707070" stroke-width="1"/>
<line x1="167.40" y1="994.91" x2="167.40" y2="1014.73" stroke="#707070" stroke-width="1"/>
<line x1="167.40" y1="1004.82" x2="167.10" y2="1004.82" stroke="#707070" stroke-width="1"/>
<line x1="167.10" y1="981.71" x2="167.10" y2="1004.82" stroke="#707070" stroke-width="1"/>
<line x1="167.10" y1="993.26" x2="165.20" y2="993.26" stroke="#707070" stroke-width="1"/>
<line x1="165.20" y1="968.50" x2="165.20" y2="993.26" stroke="#707070" stroke-width="1"/>
<line x1="165.20" y1="980.88" x2="164.40" y2="980.88" stroke="#707070" stroke-width="1"/>
<line x1="170.10" y1="1034.55" x2="166.30" y2="1034.55" stroke="#707070" stroke-width="1"/>
<line x1="170.10" y1="1047.76" x2="168.80" y2="1047.76" stroke="#707070" stroke-width="1"/>
<line x1="170.10" y1="1060.97" x2="168.80" y2="1060.97" stroke="#707070" stroke-width="1"/>
<line x1="168.80" y1="1047.76" x2="168.80" y2="1060.97" stroke="#707070" stroke-width="1"/>
<line x1="168.80" y1="1054.36" x2="167.60" y2="1054.36" stroke="#707070" stroke-width="1"/>
<line x1="170.10" y1="1074.18" x2="168.80" y2="1074.18" stroke="#707070" stroke-width="1"/>
<line x1="170.10" y1="1087.38" x2="169.00" y2="1087.38" stroke="#707070" stroke-width="1"/>
<line x1="170.10" y1="1100.60" x2="169.50" y2="1100.60" stroke="#707070" stroke-width="1"/>
<line x1="170.10" y1="1113.81" x2="169.50" y2="1113.81" stroke="#707070" stroke-width="1"/>
<line x1="169.50" y1="1100.60" x2="169.50" y2="1113.81" stroke="#707070" stroke-width="1"/>
<line x1="169.50" y1="1107.20" x2="169.00" y2="1107.20" stroke="#707070" stroke-width="1"/>
<line x1="169.00" y1="1087.38" x2="169.00" y2="1107.20" stroke="#707070" stroke-width="1"/>
<line x1="169.00" y1="1097.29" x2="168.80" y2="1097.29" stroke="#707070" stroke-width="1"/>
<line x1="168.80" y1="1074.18" x2="168.80" y2="1097.29" stroke="#707070" stroke-width="1"/>
<line x1="168.80" y1="1085.73" x2="167.60" y2="1085.73" stroke="#707070" stroke-width="1"/>
<line x1="167.60" y1="1054.36" x2="167.60" y2="1085.73" stroke="#707070" stroke-width="1"/>
<line x1="167.60" y1="1070.05" x2="166.30" y2="1070.05" stroke="#707070" stroke-width="1"/>
<line x1="166.30" y1="1034.55" x2="166.30" y2="1070.05" stroke="#707070" stroke-width="1"/>
<line x1="166.30" y1="1052.30" x2="164.40" y2="1052.30" stroke="#707070" stroke-width="1"/>
<line x1="164.40" y1="980.88" x2="164.40" y2="1052.30" stroke="#707070" stroke-width="1"/>
<line x1="164.40" y1="1016.59" x2="161.10" y2="1016.59" stroke="#707070" stroke-width="1"/>
<line x1="161.10" y1="955.29" x2="161.10" y2="1016.59" stroke="#707070" stroke-width="1"/>
<line x1="161.10" y1="985.94" x2="160.20" y2="985.94" stroke="#707070" stroke-width="1"/>
<line x1="160.20" y1="935.47" x2="160.20" y2="985.94" stroke="#707070" stroke-width="1"/>
<line x1="160.20" y1="960.70" x2="158.00" y2="960.70" stroke="#707070" stroke-width="1"/>
<line x1="158.00" y1="909.05" x2="158.00" y2="960.70" stroke="#707070" stroke-width="1"/>
<line x1="158.00" y1="934.88" x2="157.40" y2="934.88" stroke="#707070" stroke-width="1"/>
<line x1="157.40" y1="872.72" x2="157.40" y2="934.88" stroke="#707070" stroke-width="1"/>
<line x1="157.40" y1="903.80" x2="153.40" y2="903.80" stroke="#707070" stroke-width="1"/>
<line x1="153.40" y1="849.61" x2="153.40" y2="903.80" stroke="#707070" stroke-width="1"/>
<line x1="153.40" y1="876.70" x2="141.30" y2="876.70" stroke="#707070" stroke-width="1"/>
<line x1="141.30" y1="815.75" x2="141.30" y2="876.70" stroke="#707070" stroke-width="1"/>
<line x1="141.30" y1="846.23" x2="135.20" y2="846.23" stroke="#707070" stroke-width="1"/>
<line x1="135.20" y1="763.74" x2="135.20" y2="846.23" stroke="#707070" stroke-width="1"/>
<line x1="135.20" y1="804.98" x2="125.40" y2="804.98" stroke="#707070" stroke-width="1"/>
<line x1="125.40" y1="737.32" x2="125.40" y2="804.98" stroke="#707070" stroke-width="1"/>
<line x1="125.40" y1="771.15" x2="109.80" y2="771.15" stroke="#707070" stroke-width="1"/>
<line x1="109.80" y1="717.50" x2="109.80" y2="771.15" stroke="#707070" stroke-width="1"/>
<line x1="109.80" y1="744.33" x2="105.40" y2="744.33" stroke="#707070" stroke-width="1"/>
<line x1="105.40" y1="694.39" x2="105.40" y2="744.33" stroke="#707070" stroke-width="1"/>
<line x1="105.40" y1="719.36" x2="93.30" y2="719.36" stroke="#707070" stroke-width="1"/>
<line x1="93.30" y1="664.67" x2="93.30" y2="719.36" stroke="#707070" stroke-width="1"/>
<line x1="93.30" y1="692.01" x2="91.40" y2="692.01" stroke="#707070" stroke-width="1"/>
<line x1="91.40" y1="651.46" x2="91.40" y2="692.01" stroke="#707070" stroke-width="1"/>
<rect x="112.20" y="523.9" width="3.54" height="90.60" fill="rgb(152, 78, 172)"/>
<rect x="115.44" y="523.9" width="3.54" height="90.60" fill="rgb(165, 101, 183)"/>
<rect x="118.68" y="523.9" width="3.54" height="90.60" fill="rgb(179, 124, 194)"/>
<rect x="121.92" y="523.9" width="3.54" height="90.60" fill="rgb(192, 147, 204)"/>
<rect x="125.16" y="523.9" width="3.54" height="90.60" fill="rgb(205, 170, 215)"/>
<rect x="128.41" y="523.9" width="3.54" height="90.60" fill="rgb(218, 192, 225)"/>
<rect x="131.65" y="523.9" width="3.54" height="90.60" fill="rgb(231, 214, 236)"/>
<rect x="134.89" y="523.9" width="3.54" height="90.60" fill="rgb(243, 235, 246)"/>
<rect x="138.13" y="523.9" width="3.54" height="90.60" fill="rgb(255, 255, 255)"/>
<rect x="141.37" y="523.9" width="3.54" height="90.60" fill="rgb(255, 241, 226)"/>
<rect x="144.61" y="523.9" width="3.54" height="90.60" fill="rgb(255, 225, 196)"/>
<rect x="147.85" y="523.9" width="3.54" height="90.60" fill="rgb(255, 209, 164)"/>
<rect x="151.09" y="523.9" width="3.54" height="90.60" fill="rgb(255, 193, 132)"/>
<rect x="154.34" y="523.9" width="3.54" height="90.60" fill="rgb(255, 177, 99)"/>
<rect x="157.58" y="523.9" width="3.54" height="90.60" fill="rgb(255, 160, 66)"/>
<rect x="160.82" y="523.9" width="3.54" height="90.60" fill="rgb(255, 144, 33)"/>
<rect x="164.06" y="523.9" width="3.54" height="90.60" fill="rgb(255, 127, 0)"/>
<line x1="112.2" y1="614.5" x2="167.3" y2="614.5" stroke="#555" stroke-width="0.8"/>
<line x1="112.2" y1="523.9" x2="167.3" y2="523.9" stroke="#ccc" stroke-width="0.5"/>
<line x1="120.80" y1="614.5" x2="120.80" y2="617.5" stroke="#555" stroke-width="0.6"/>
<text x="120.80" y="625.8" text-anchor="middle" font-size="5.2" fill="#222">-4</text>
<line x1="130.33" y1="614.5" x2="130.33" y2="617.5" stroke="#555" stroke-width="0.6"/>
<text x="130.33" y="625.8" text-anchor="middle" font-size="5.2" fill="#222">-2</text>
<line x1="139.86" y1="614.5" x2="139.86" y2="617.5" stroke="#555" stroke-width="0.6"/>
<text x="139.86" y="625.8" text-anchor="middle" font-size="5.2" fill="#222">0</text>
<line x1="149.39" y1="614.5" x2="149.39" y2="617.5" stroke="#555" stroke-width="0.6"/>
<text x="149.39" y="625.8" text-anchor="middle" font-size="5.2" fill="#222">2</text>
<line x1="158.92" y1="614.5" x2="158.92" y2="617.5" stroke="#555" stroke-width="0.6"/>
<text x="158.92" y="625.8" text-anchor="middle" font-size="5.2" fill="#222">4</text>
<text x="139.8" y="634" text-anchor="middle" font-size="5.2" fill="#222">Z-score</text>
</svg>
</body></html>
